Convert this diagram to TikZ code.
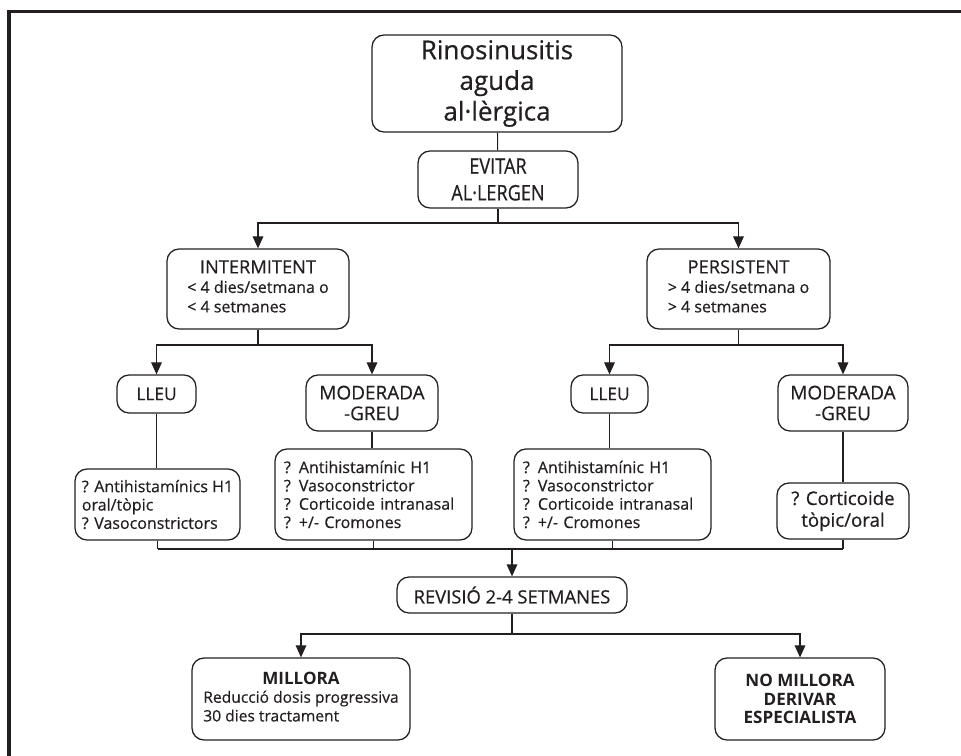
\documentclass[tikz,border=0pt]{standalone}
\usepackage{fontspec}
\setmainfont{Open Sans}[UprightFeatures={FakeBold=0.5}]
\newfontfamily\narrowfont{Open Sans}[FakeStretch=0.85, FakeBold=0.5]
\usetikzlibrary{arrows.meta}
\definecolor{ink}{HTML}{231F20}

\begin{document}
\begin{tikzpicture}[x=0.75pt,y=-0.75pt,
  box/.style={draw=ink, line width=0.95pt, rounded corners=9pt, text=ink,
              inner sep=0pt, align=center},
  listbox/.style={box, align=left, inner xsep=6.75pt, text width=#1},
  link/.style={draw=ink, line width=0.8pt},
  arr/.style={link, -{Triangle[width=8pt,length=9pt]}},
  frame/.style={draw=ink, line width=2.3pt}]

\useasboundingbox (0,0) rectangle (961,756);

% page frame (top and left edges)
\draw[frame] (961,11.5) -- (9,11.5) -- (9,756);

% ---- top of the tree ----
\node[box, minimum width=187.5pt, minimum height=72.75pt,
      font=\fontsize{19.5}{23}\selectfont] (title) at (497,83.5)
  {Rinosinusitis\\aguda\\al·lèrgica};

\node[box, minimum width=120pt, minimum height=42.75pt,
      font=\narrowfont\fontsize{16}{20}\selectfont] (evitar) at (498,179.5)
  {EVITAR\\AL·LERGEN};

% ---- frequency ----
\node[box, minimum width=136.5pt, minimum height=60pt,
      font=\fontsize{12}{14.6}\selectfont] (inter) at (258,289)
  {\begin{tabular}{@{}l@{}}
   \multicolumn{1}{@{}c@{}}{\fontsize{13.7}{14.6}\selectfont INTERMITENT}\\
   < 4 dies/setmana o\\
   < 4 setmanes
   \end{tabular}};

\node[box, minimum width=137.25pt, minimum height=60pt,
      font=\fontsize{12}{14.6}\selectfont] (pers) at (738.5,289)
  {\begin{tabular}{@{}l@{}}
   \multicolumn{1}{@{}c@{}}{\fontsize{13.7}{14.6}\selectfont PERSISTENT}\\
   > 4 dies/setmana o\\
   > 4 setmanes
   \end{tabular}};

% ---- severity ----
\node[box, minimum width=59.25pt, minimum height=28.5pt,
      font=\fontsize{13}{15}\selectfont] (lleuA) at (156.5,394) {LLEU};
\node[box, minimum width=99pt, minimum height=42pt,
      font=\fontsize{14.2}{15.5}\selectfont] (modA) at (372,403) {MODERADA\\-GREU};
\node[box, minimum width=57.75pt, minimum height=28.5pt,
      font=\fontsize{13}{15}\selectfont] (lleuB) at (609.5,394) {LLEU};
\node[box, minimum width=97.5pt, minimum height=42pt,
      font=\fontsize{14.2}{15.5}\selectfont] (modB) at (843,403) {MODERADA\\-GREU};

% ---- treatments ----
\node[box, align=left, minimum width=123.75pt, minimum height=53.25pt,
      font=\fontsize{12}{13.75}\selectfont] (trtA) at (157.5,504.5)
  {? Antihistamínics H1\\oral/tòpic\\? Vasoconstrictors};
\node[listbox=134.25pt, minimum height=68.25pt,
      font=\fontsize{12}{13.75}\selectfont] (trtB) at (373.5,494.5)
  {? Antihistamínic H1\\? Vasoconstrictor\\? Corticoide intranasal\\? +/- Cromones};
\node[listbox=134.25pt, minimum height=68.25pt,
      font=\fontsize{12}{13.75}\selectfont] (trtC) at (612.5,494.5)
  {? Antihistamínic H1\\? Vasoconstrictor\\? Corticoide intranasal\\? +/- Cromones};
\node[box, minimum width=99pt, minimum height=42pt,
      font=\fontsize{14}{16.3}\selectfont] (trtD) at (843,511)
  {? Corticoide\\tòpic/oral};

% ---- review and outcome ----
\node[box, minimum width=172.5pt, minimum height=27pt,
      font=\fontsize{13.8}{15}\selectfont] (rev) at (512,595)
  {REVISIÓ 2-4 SETMANES};

\node[box, minimum width=163.5pt, minimum height=61.5pt,
      font=\fontsize{11.7}{14}\selectfont] (mil) at (301,699)
  {\begin{tabular}{@{}l@{}}
   \multicolumn{1}{@{}c@{}}{\fontsize{12.8}{15}\selectfont\bfseries MILLORA}\\
   Reducció dosis progressiva\\
   30 dies tractament
   \end{tabular}};

\node[box, minimum width=127.5pt, minimum height=61.5pt,
      font=\fontsize{12.8}{13.9}\selectfont\bfseries] (nomil) at (800,699)
  {NO MILLORA\\DERIVAR\\ESPECIALISTA};

% ---- junction points ----
\coordinate (j1) at (498,223);
\coordinate (j2) at (258,345);
\coordinate (j3) at (738.5,345);
\coordinate (bus) at (512,549);
\coordinate (j4) at (512,634);

% ---- connectors ----
\draw[link] (title) -- (evitar);
\draw[link] (evitar) -- (j1);
\draw[arr] (j1) -| (inter.north);
\draw[arr] (j1) -| (pers.north);

\draw[link] (inter) -- (j2);
\draw[arr] (j2) -| (lleuA.north);
\draw[arr] (j2) -| (modA.north);
\draw[link] (pers) -- (j3);
\draw[arr] (j3) -| (lleuB.north);
\draw[arr] (j3) -| (modB.north);

\draw[link] (lleuA.south) -- (lleuA.south |- trtA.north);
\draw[link] (modA.south) -- (modA.south |- trtB.north);
\draw[link] (lleuB.south) -- (lleuB.south |- trtC.north);
\draw[link] (modB.south) -- (modB.south |- trtD.north);

\draw[link] (trtA.south) -- (trtA.south |- bus);
\draw[link] (trtB.south) -- (trtB.south |- bus);
\draw[link] (trtC.south) -- (trtC.south |- bus);
\draw[link] (trtD.south) -- (trtD.south |- bus);
\draw[link] (trtA.south |- bus) -- (trtD.south |- bus);
\draw[arr] (bus) -- (rev.north);

\draw[link] (rev) -- (j4);
\draw[arr] (j4) -| (mil.north);
\draw[arr] (j4) -| (nomil.north);

\end{tikzpicture}
\end{document}
